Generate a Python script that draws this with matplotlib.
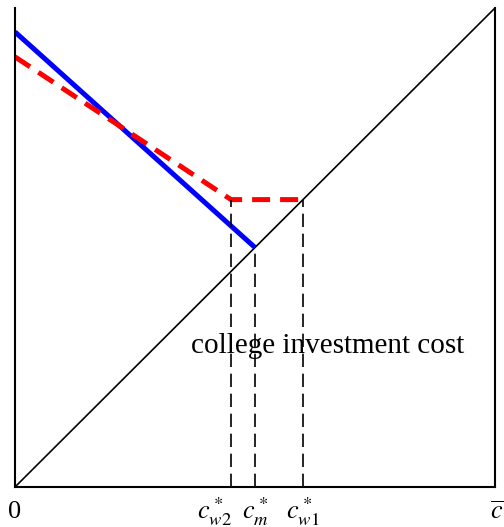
import numpy as np
import matplotlib.pyplot as plt

plt.rcParams['mathtext.fontset'] = 'stix'
plt.rcParams['font.family'] = 'Liberation Serif'

# cost thresholds on the horizontal axis (c_bar = 1)
c_w2 = 0.45
c_m = 0.50
c_w1 = 0.60
c_bar = 1.0

# blue solid curve: from intercept down to the diagonal at c_m
blue_x = [0.0, c_m]
blue_y = [0.95, 0.50]

# red dashed curve: declines until c_w2, then flat until it hits the diagonal at c_w1
red_x = [0.0, c_w2, c_w1]
red_y = [0.898, 0.60, 0.60]

tick_pos = [0.0, c_w2, c_m, c_w1, c_bar]
tick_labels = ['0', r'$c^*_{w2}$', r'$c^*_m$', r'$c^*_{w1}$', r'$\overline{c}$']
# horizontal nudge (pixels) so neighbouring labels don't collide
tick_shift = [0, -17, 0, 0, 2]

fig = plt.figure(figsize=(5.04, 5.27), dpi=100)
ax = fig.add_axes([15 / 504, 1 - 487 / 527, 480 / 504, 479 / 527])

ax.plot([0, c_bar], [0, 1], color='black', linewidth=1.2)
ax.plot(blue_x, blue_y, color='blue', linewidth=3.6, solid_capstyle='butt')
ax.plot(red_x, red_y, color='red', linewidth=3.6, linestyle=(0, (3.6, 2)))

# vertical guides from the axis to each threshold point
ax.plot([c_w2, c_w2], [0, red_y[1]], color='black', linewidth=1.2, linestyle=(0, (8, 4)))
ax.plot([c_m, c_m], [0, blue_y[1]], color='black', linewidth=1.2, linestyle=(0, (8, 4)))
ax.plot([c_w1, c_w1], [0, red_y[2]], color='black', linewidth=1.2, linestyle=(0, (8, 4)))

ax.text(0.651, 0.294, 'college investment cost', fontsize=21, ha='center', va='center', zorder=1)

for x, lab, dx in zip(tick_pos, tick_labels, tick_shift):
    ax.annotate(lab, xy=(x, 0), xycoords=('data', 'axes fraction'),
                xytext=(dx, -25), textcoords='offset pixels',
                ha='center', va='center', fontsize=19, annotation_clip=False)

ax.set_xlim(0, c_bar)
ax.set_ylim(0, 1)
ax.set_xticks([])
ax.set_yticks([])
ax.spines['top'].set_visible(False)
for s in ['left', 'right', 'bottom']:
    ax.spines[s].set_linewidth(1.5)

fig.savefig('out.png', dpi=100)
